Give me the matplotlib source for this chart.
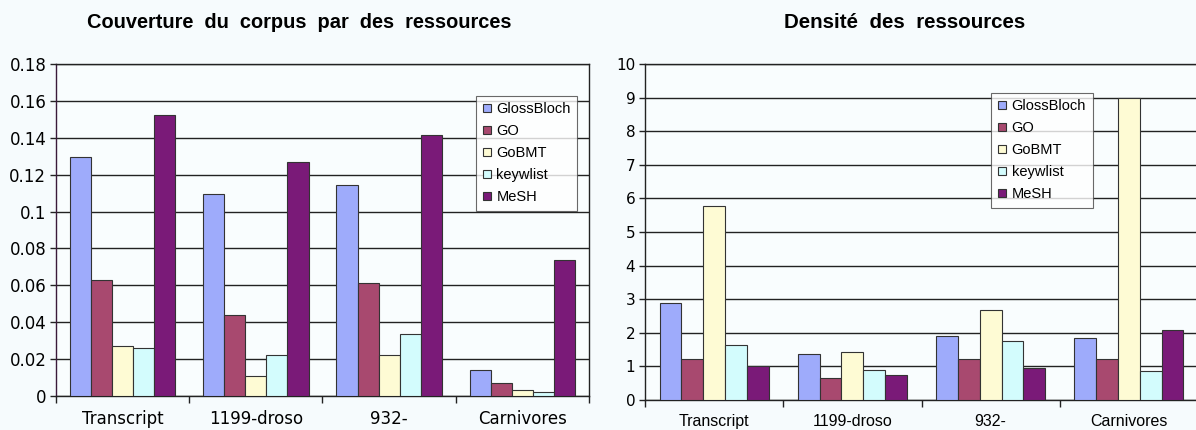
import numpy as np
import matplotlib
matplotlib.use("Agg")
import matplotlib.pyplot as plt
from matplotlib.ticker import FixedLocator, NullFormatter

categories = ["Transcript", "1199-droso", "932-", "Carnivores"]
series = ["GlossBloch", "GO", "GoBMT", "keywlist", "MeSH"]
colors = ["#9eabfb", "#a8496f", "#fefbd4", "#d3fcfd", "#7a1a78"]

# couverture du corpus
cov_glossbloch = [0.1298, 0.1095, 0.1144, 0.014]
cov_go = [0.0627, 0.044, 0.0611, 0.007]
cov_gobmt = [0.0269, 0.0109, 0.022, 0.0033]
cov_keywlist = [0.0258, 0.022, 0.0336, 0.002]
cov_mesh = [0.1524, 0.1267, 0.1416, 0.0736]

# densite des ressources
den_glossbloch = [2.89, 1.38, 1.91, 1.86]
den_go = [1.22, 0.64, 1.22, 1.22]
den_gobmt = [5.78, 1.44, 2.68, 9.0]
den_keywlist = [1.64, 0.9, 1.76, 0.85]
den_mesh = [1.0, 0.75, 0.95, 2.08]

cov = [cov_glossbloch, cov_go, cov_gobmt, cov_keywlist, cov_mesh]
den = [den_glossbloch, den_go, den_gobmt, den_keywlist, den_mesh]

bg = "#f6fbfd"
fig = plt.figure(figsize=(11.96, 4.30), dpi=100, facecolor=bg)


def draw(ax, data, ymax, step, tick_size, cat_font, cat_size):
    ax.set_facecolor("#f9fdfe")
    x = np.arange(len(categories))
    w = 0.158
    for i, vals in enumerate(data):
        ax.bar(x + (i - 2) * w, vals, w, color=colors[i], edgecolor="#333333",
               linewidth=0.8, label=series[i], zorder=3)
    ax.set_xlim(-0.5, len(categories) - 0.5)
    ax.set_ylim(0, ymax)
    ax.set_yticks(np.arange(0, ymax + step / 2, step))
    ax.yaxis.grid(True, color="#222222", linewidth=1.0, zorder=0)
    ax.xaxis.set_major_locator(FixedLocator(np.arange(-0.5, len(categories), 1.0)))
    ax.xaxis.set_major_formatter(NullFormatter())
    ax.xaxis.set_minor_locator(FixedLocator(x))
    ax.set_xticklabels(categories, minor=True, fontsize=cat_size, family=cat_font)
    ax.tick_params(axis="x", which="minor", length=0, pad=10)
    ax.tick_params(axis="x", which="major", length=5, width=1, color="#222222")
    ax.tick_params(axis="y", length=4, width=1, labelsize=tick_size, pad=3, color="#222222")
    for s in ax.spines.values():
        s.set_color("#222222")
        s.set_linewidth(1.0)
    leg = ax.legend(loc="upper left", prop={"family": "Liberation Sans", "size": 10.5},
                    frameon=True, fancybox=False, edgecolor="#444444",
                    handlelength=0.55, handleheight=0.55, handletextpad=0.4,
                    labelspacing=0.55, borderpad=0.45, borderaxespad=0)
    leg.get_frame().set_facecolor("white")
    leg.get_frame().set_linewidth(0.8)
    leg.set_zorder(5)
    return leg


ax1 = fig.add_axes([56 / 1196, 1 - 396 / 430, 533 / 1196, 332 / 430])
leg1 = draw(ax1, cov, 0.18, 0.02, 12, "DejaVu Sans", 12)
ax1.set_yticklabels(["0"] + ["%g" % v for v in np.arange(0.02, 0.181, 0.02)])
ax1.spines["left"].set_color("#3a1a3a")
leg1.set_bbox_to_anchor((0.788, 0.905), transform=ax1.transAxes)
fig.text(299 / 1196, 1 - 23 / 430, "Couverture  du  corpus  par  des  ressources",
         ha="center", va="center", fontsize=14.4, fontweight="bold", family="Liberation Sans")

ax2 = fig.add_axes([645 / 1196, 1 - 400 / 430, 553 / 1196, 336 / 430])
leg2 = draw(ax2, den, 10, 1, 11, "Liberation Sans", 11.5)
ax2.spines["right"].set_visible(False)
leg2.set_bbox_to_anchor((0.626, 0.915), transform=ax2.transAxes)
fig.text(905 / 1196, 1 - 23 / 430, "Densité  des  ressources",
         ha="center", va="center", fontsize=14.8, fontweight="bold", family="Liberation Sans")

fig.savefig("out.png", dpi=100, facecolor=bg)
